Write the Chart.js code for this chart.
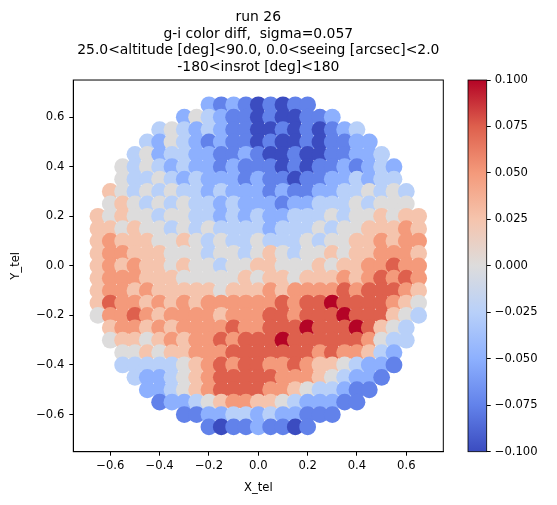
<!DOCTYPE html>
<html>
<head>
<meta charset="utf-8">
<script src="https://cdn.jsdelivr.net/npm/chart.js@4.4.1/dist/chart.umd.min.js"></script>
<style>
html, body { margin: 0; padding: 0; background: #fff; }
</style>
</head>
<body>
<canvas id="scatter" width="557" height="505"></canvas>
<script>
var titleLines = [
  "run 26",
  "g-i color diff,  sigma=0.057",
  "25.0<altitude [deg]<90.0, 0.0<seeing [arcsec]<2.0",
  "-180<insrot [deg]<180"
];

// cell centres of the sampled grid (X_tel / Y_tel)
var xCells = [-0.70, -0.65, -0.60, -0.55, -0.50, -0.45, -0.40, -0.35, -0.30, -0.25,
              -0.20, -0.15, -0.10, -0.05, 0.00, 0.05, 0.10, 0.15, 0.20, 0.25,
              0.30, 0.35, 0.40, 0.45, 0.50, 0.55, 0.60, 0.65, 0.70];
var yCells = [0.70, 0.65, 0.60, 0.55, 0.50, 0.45, 0.40, 0.35, 0.30, 0.25,
              0.20, 0.15, 0.10, 0.05, 0.00, -0.05, -0.10, -0.15, -0.20, -0.25,
              -0.30, -0.35, -0.40, -0.45, -0.50, -0.55, -0.60, -0.65, -0.70];

// colour diff, one char per cell, index into levelValues ('.' = no stars)
var colorLevels = [
  ".............................",
  "..........212101011..........",
  "........2432110100112........",
  "......34323211001010123......",
  ".....3243212110100101122.....",
  "....342332211210010011223....",
  "...43432322121110101121232...",
  "...43343232221211011223233...",
  "..5434343323222121122334343..",
  "..4543434332322212233343444..",
  ".545443443323232233343445455.",
  ".554544343433332333434455565.",
  ".565554454343343334344556566.",
  ".566555444344345434454556665.",
  ".565655454434455444545566766.",
  ".566655544444545545556567676.",
  ".566565555545556566667677765.",
  ".576656565666666767787777654.",
  ".466765666656667767778777543.",
  "..5665656666766777877787543..",
  "..4554565667677787777776433..",
  "...44545566677777776766532...",
  "...33333456767766765543221...",
  "....322345677777666543221....",
  ".....2234567777665433211.....",
  "......12234566554322211......",
  "........1122332322111........",
  "..........101121101..........",
  "............................."
];
var levelValues = [-0.1, -0.075, -0.05, -0.025, 0, 0.025, 0.05, 0.075, 0.1];

var xTicks = [-0.6, -0.4, -0.2, 0.0, 0.2, 0.4, 0.6];
var yTicks = [-0.6, -0.4, -0.2, 0.0, 0.2, 0.4, 0.6];
var cbTicks = [-0.1, -0.075, -0.05, -0.025, 0, 0.025, 0.05, 0.075, 0.1];

// coolwarm anchors
var cmap = [[59,76,192],[98,130,234],[141,176,254],[184,208,249],[221,220,220],
            [245,196,173],[244,154,123],[222,96,77],[180,4,38]];
function coolwarm(v) {
  var t = (v + 0.1) / 0.2;
  t = Math.max(0, Math.min(1, t));
  var f = t * 8, i = Math.min(7, Math.floor(f)), u = f - i;
  var a = cmap[i], b = cmap[i + 1];
  return 'rgb(' + Math.round(a[0] + (b[0] - a[0]) * u) + ',' +
                  Math.round(a[1] + (b[1] - a[1]) * u) + ',' +
                  Math.round(a[2] + (b[2] - a[2]) * u) + ')';
}
function fmt(v, d) {
  if (v < 0) return '\u2212' + Math.abs(v).toFixed(d);
  return Math.abs(v).toFixed(d);
}

var pts = [], cols = [];
for (var r = 0; r < colorLevels.length; r++) {
  for (var c = 0; c < colorLevels[r].length; c++) {
    var ch = colorLevels[r][c];
    if (ch === '.') continue;
    var val = levelValues[+ch];
    pts.push({x: xCells[c], y: yCells[r], v: val});
    cols.push(coolwarm(val));
  }
}

var FONT = 'DejaVu Sans';
Chart.defaults.font.family = FONT;
Chart.defaults.color = '#000';

var framePlugin = {
  id: 'frame',
  afterDraw: function(chart) {
    var a = chart.chartArea, g = chart.ctx;
    g.save();
    g.strokeStyle = '#000';
    g.lineWidth = 1;
    g.strokeRect(a.left, a.top, a.right - a.left, a.bottom - a.top);
    // colour bar
    var cb = chart.scales.cb;
    var x1 = cb.left - 18.7, w = 18.7;
    var grad = g.createLinearGradient(0, cb.bottom, 0, cb.top);
    for (var i = 0; i < cmap.length; i++) {
      grad.addColorStop(i / (cmap.length - 1), 'rgb(' + cmap[i].join(',') + ')');
    }
    g.fillStyle = grad;
    g.fillRect(x1, cb.top, w, cb.bottom - cb.top);
    g.lineWidth = 0.8;
    g.strokeRect(x1, cb.top, w, cb.bottom - cb.top);
    g.restore();
  }
};

var ctx = document.getElementById('scatter');
var chart = new Chart(ctx, {
  type: 'scatter',
  data: {
    datasets: [{
      data: pts,
      backgroundColor: cols,
      borderWidth: 0,
      pointRadius: 8.4,
      pointHoverRadius: 8.4
    }]
  },
  options: {
    responsive: false,
    animation: false,
    events: [],
    layout: { padding: 0 },
    plugins: {
      legend: { display: false },
      tooltip: { enabled: false },
      title: {
        display: true,
        text: titleLines,
        fullSize: false,
        color: '#000',
        font: { family: FONT, size: 13.9, weight: 'normal', lineHeight: 1.2 },
        padding: { top: 9, bottom: 4.3 }
      }
    },
    scales: {
      x: {
        type: 'linear',
        min: -0.75, max: 0.75,
        afterBuildTicks: function(s) { s.ticks = xTicks.map(function(v) { return {value: v}; }); },
        afterFit: function(s) { s.height = 53.3; },
        ticks: { font: { size: 11.6 }, color: '#000', padding: 3, maxRotation: 0,
                 callback: function(v) { return fmt(v, 1); } },
        grid: { drawOnChartArea: false, drawTicks: true, tickLength: 4, color: '#000' },
        border: { color: '#000', width: 1 },
        title: { display: true, text: 'X_tel', color: '#000', font: { size: 11.6 },
                 padding: { top: 0, bottom: 10 } }
      },
      y: {
        type: 'linear',
        min: -0.75, max: 0.75,
        afterBuildTicks: function(s) { s.ticks = yTicks.map(function(v) { return {value: v}; }); },
        afterFit: function(s) { s.width = 73.3; },
        ticks: { font: { size: 11.6 }, color: '#000', padding: 5,
                 callback: function(v) { return fmt(v, 1); } },
        grid: { drawOnChartArea: false, drawTicks: true, tickLength: 4, color: '#000' },
        border: { color: '#000', width: 1 },
        title: { display: true, text: 'Y_tel', color: '#000', font: { size: 11.6 },
                 padding: { top: 9, bottom: 0 } }
      },
      gap: {
        type: 'linear', position: 'right', weight: 0, min: 0, max: 1,
        ticks: { display: false },
        grid: { display: false },
        border: { display: false },
        afterFit: function(s) { s.width = 43.4; }
      },
      cb: {
        type: 'linear', position: 'right', weight: 1, min: -0.1, max: 0.1,
        afterBuildTicks: function(s) { s.ticks = cbTicks.map(function(v) { return {value: v}; }); },
        afterFit: function(s) { s.width = 70.3; },
        ticks: { font: { size: 11.6 }, color: '#000', padding: 4,
                 callback: function(v) { return fmt(v, 3); } },
        grid: { drawOnChartArea: false, drawTicks: true, tickLength: 4, color: '#000' },
        border: { display: false }
      }
    }
  },
  plugins: [framePlugin]
});
</script>
</body>
</html>
